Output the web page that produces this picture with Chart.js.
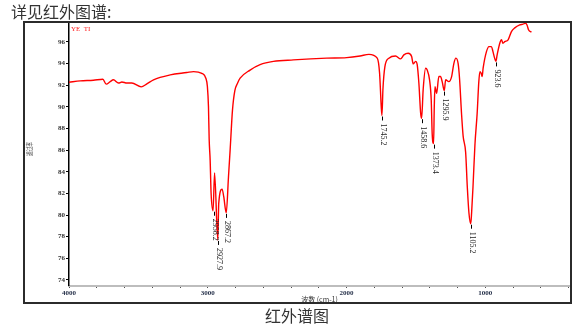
<!DOCTYPE html>
<html lang="zh">

<head>
    <meta charset="UTF-8">
    <title>红外谱图</title>
    <script src="https://cdn.jsdelivr.net/npm/chart.js"></script>
    <style>
        body { margin: 0; background: #fff; }
        #wrap { position: relative; width: 586px; height: 326px; overflow: hidden; }
        #irChart { position: absolute; left: 0; top: 0; }
        .frame { position: absolute; left: 23px; top: 21px; width: 549px; height: 283px; box-sizing: border-box; border: 2px solid #2b2b2b; pointer-events: none; }
        .title { position: absolute; left: 11px; top: 1px; font: 16px/20px "Noto Sans CJK SC", sans-serif; color: #333; }
        .caption { position: absolute; left: 0; width: 594px; text-align: center; top: 305px; font: 16px/20px "Noto Sans CJK SC", sans-serif; color: #333; }
    </style>
</head>

<body>
    <div id="wrap">
        <canvas id="irChart" width="586" height="326"></canvas>
        <div class="frame"></div>
        <div class="title">详见红外图谱:</div>
        <div class="caption">红外谱图</div>
    </div>
    <script>
        // spectrum (wavenumber cm-1, transmittance %)
        const waveNumbers = [
            4000, 3919, 3824, 3756, 3732, 3703, 3680, 3643, 3619, 3583, 3547, 3480, 3439, 3391,
            3271, 3151, 3103, 3043, 3014, 3003, 2995, 2990, 2983, 2976, 2962, 2951, 2928, 2921,
            2897, 2885, 2867, 2851, 2839, 2822, 2805, 2785, 2767, 2695, 2623, 2527, 2383, 2143,
            1999, 1903, 1839, 1779, 1762, 1750, 1745, 1738, 1724, 1695, 1647, 1611, 1587, 1556,
            1531, 1520, 1502, 1491, 1479, 1466, 1459, 1448, 1430, 1419, 1402, 1390, 1383, 1373,
            1368, 1363, 1351, 1335, 1323, 1311, 1296, 1286, 1263, 1243, 1227, 1212, 1196, 1186,
            1171, 1160, 1142, 1130, 1118, 1105, 1099, 1089, 1075, 1059, 1047, 1039, 1030, 1023,
            1016, 992, 974, 956, 945, 933, 924, 915, 896, 884, 873, 860, 836, 812, 788, 752,
            729, 711, 700, 688, 668
        ];
        const transmittance = [
            92.28, 92.40, 92.46, 92.55, 92.10, 92.33, 92.50, 92.20, 92.30, 92.20, 92.20, 91.85, 92.12, 92.50,
            92.95, 93.17, 93.26, 93.10, 92.65, 91.90, 90.00, 87.00, 85.10, 82.00, 80.40, 83.90, 77.70, 81.10,
            82.40, 81.70, 80.20, 83.50, 86.00, 89.70, 91.50, 92.20, 92.65, 93.40, 93.90, 94.20, 94.34, 94.50,
            94.55, 94.70, 94.85, 94.50, 93.10, 90.00, 89.20, 91.60, 93.70, 94.50, 94.70, 94.43, 94.80, 94.95,
            94.65, 93.97, 94.20, 93.90, 92.20, 89.40, 88.95, 91.60, 93.57, 93.40, 92.50, 90.65, 87.50, 86.60,
            90.00, 91.87, 91.26, 92.80, 92.80, 92.33, 91.50, 92.50, 92.33, 92.80, 94.00, 94.50, 94.00, 92.65,
            89.25, 87.30, 85.80, 82.60, 80.17, 79.20, 80.20, 82.60, 86.50, 89.40, 92.33, 93.26, 93.10, 92.80,
            93.57, 95.10, 95.57, 95.57, 95.10, 94.50, 94.20, 94.80, 95.88, 96.20, 95.88, 96.03, 96.20, 96.96,
            97.30, 97.57, 97.64, 97.73, 97.57, 97.10, 96.90
        ];

        // marked peaks
        const peakWave = [2958.2, 2927.9, 2867.2, 1745.2, 1458.6, 1373.4, 1295.9, 1105.2, 923.6];
        const peakT = [80.4, 77.7, 80.2, 89.2, 88.95, 86.6, 91.5, 79.2, 94.2];
        const peakLabels = ['2958.2', '2927.9', '2867.2', '1745.2', '1458.6', '1373.4', '1295.9', '1105.2', '923.6'];

        // axis ticks
        const xTickValues = [4000, 3800, 3600, 3400, 3200, 3000, 2800, 2600, 2400, 2200, 2000,
            1800, 1600, 1400, 1200, 1000, 800, 600, 400];
        const yTickValues = [74, 76, 78, 80, 82, 84, 86, 88, 90, 92, 94, 96];

        const spectrum = waveNumbers.map((w, i) => ({ x: w, y: transmittance[i] }));

        // peak markers + labels, axis name on the left, sample tag
        const decorations = {
            id: 'decorations',
            afterDatasetsDraw(chart) {
                const c = chart.ctx;
                const xs = chart.scales.x, ys = chart.scales.y;
                c.save();
                c.strokeStyle = '#000';
                c.lineWidth = 1;
                c.fillStyle = '#222';
                c.font = '8px "Liberation Serif"';
                peakWave.forEach((w, i) => {
                    const px = Math.round(xs.getPixelForValue(w)) + 0.5;
                    const py = ys.getPixelForValue(peakT[i]);
                    c.beginPath();
                    c.moveTo(px, py + 1);
                    c.lineTo(px, py + 5);
                    c.stroke();
                    c.save();
                    c.translate(px + 1, py + 8);
                    c.rotate(Math.PI / 2);
                    c.textAlign = 'left';
                    c.textBaseline = 'middle';
                    c.fillText(peakLabels[i], 0, 0);
                    c.restore();
                });
                // sample tag
                c.fillStyle = '#ff2020';
                c.font = '7px "Liberation Serif"';
                c.textAlign = 'left';
                c.textBaseline = 'alphabetic';
                c.fillText('YE  TI', chart.chartArea.left + 2, chart.chartArea.top + 8);
                // y axis name
                c.fillStyle = '#555';
                c.font = '7px "Noto Sans CJK SC"';
                c.translate(29, 149);
                c.rotate(-Math.PI / 2);
                c.textAlign = 'center';
                c.textBaseline = 'middle';
                c.fillText('透过率', 0, 0, 14);
                c.restore();
            }
        };

        const ctx = document.getElementById('irChart').getContext('2d');
        const irChart = new Chart(ctx, {
            type: 'line',
            data: {
                datasets: [{
                    data: spectrum,
                    borderColor: '#ff0000',
                    borderWidth: 1.4,
                    pointRadius: 0,
                    cubicInterpolationMode: 'monotone',
                    fill: false
                }]
            },
            options: {
                responsive: false,
                animation: false,
                devicePixelRatio: 1,
                layout: { padding: { top: 23, right: 16, bottom: 22, left: 0 } },
                plugins: { legend: { display: false }, tooltip: { enabled: false } },
                scales: {
                    x: {
                        type: 'linear',
                        reverse: true,
                        min: 390,
                        max: 4000,
                        afterFit: s => { s.height = 18.3; },
                        afterBuildTicks: s => { s.ticks = xTickValues.map(v => ({ value: v })); },
                        ticks: {
                            autoSkip: false,
                            maxRotation: 0,
                            padding: 1,
                            color: '#1f2a44',
                            font: { family: 'Liberation Serif', size: 7, weight: 'bold' },
                            callback: v => (v % 1000 === 0 ? v : '')
                        },
                        grid: { drawOnChartArea: false, drawTicks: true, tickLength: 2, tickColor: '#000' },
                        border: { color: '#bdbdbd', width: 2 },
                        title: {
                            display: true,
                            text: '波数 (cm-1)',
                            color: '#333',
                            font: { family: 'Noto Sans CJK SC', size: 7 },
                            padding: 0
                        }
                    },
                    y: {
                        min: 73.47,
                        max: 97.75,
                        afterFit: s => { s.width = 69; },
                        afterBuildTicks: s => { s.ticks = yTickValues.map(v => ({ value: v })); },
                        ticks: {
                            padding: 1,
                            color: '#333',
                            font: { family: 'Liberation Serif', size: 7, weight: 'bold' }
                        },
                        grid: { drawOnChartArea: false, drawTicks: true, tickLength: 3, tickColor: '#000' },
                        border: { color: '#000', width: 1.5, dash: [1, 1.2] }
                    }
                }
            },
            plugins: [decorations]
        });
    </script>
</body>

</html>
